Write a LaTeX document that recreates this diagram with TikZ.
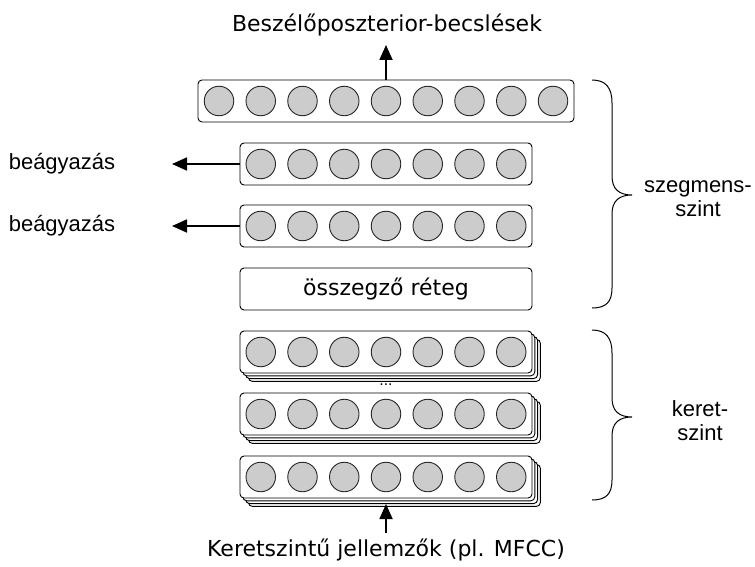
\documentclass[tikz,border=0pt]{standalone}
\usepackage{fontspec}
\setmainfont{DejaVu Sans}
\newfontfamily\arialf{Liberation Sans}
\usetikzlibrary{arrows.meta}
\definecolor{neurongray}{RGB}{204,204,204}
\begin{document}
\begin{tikzpicture}[x=1pt,y=-1pt,
  layerbox/.style={draw=black, line width=0.9pt, rounded corners=4pt, fill=white, minimum height=42pt, inner sep=0pt},
  neuron/.style={circle, draw=black!85, line width=0.9pt, fill=neurongray, minimum size=29.5pt, inner sep=0pt},
  bigtext/.style={font=\fontsize{22}{24}\selectfont, inner sep=0pt},
  sidetext/.style={font=\arialf\fontsize{22}{24}\selectfont, align=center, inner sep=0pt},
  arr/.style={-{Triangle[length=15pt,width=13pt]}, line width=1.8pt},
  bracepath/.style={line width=1pt}
]
\useasboundingbox (0,0) rectangle (755,567);

% output layer
\node[layerbox, minimum width=376pt] (out) at (386,101) {};
\foreach \i in {1,...,9} \node[neuron] (out-\i) at ({386+(\i-5)*41.75},101) {};
\node[bigtext, anchor=base] (title) at (387,32) {Beszélőposzterior-becslések};
\coordinate (outtip) at (386,45);
\draw[arr] (out.north) -- (outtip);

% embedding layers
\foreach \n/\y in {emb1/164, emb2/226} {
  \node[layerbox, minimum width=292pt] (\n) at (386,\y) {};
  \foreach \i in {1,...,7} \node[neuron] (\n-\i) at ({386+(\i-4)*41.75},\y) {};
  \coordinate (\n-tip) at (172,\y);
  \draw[arr] (\n.west) -- (\n-tip);
  \node[sidetext] (\n-lab) at (62,\y) {beágyazás};
}

% pooling
\node[layerbox, minimum width=292pt, font=\fontsize{22}{24}\selectfont] (pool) at (386,289) {összegző réteg};

% frame-level stacked layers
\foreach \n/\y in {fa/352, fb/414, fc/477} {
  \foreach \k in {3,2,1} \node[layerbox, minimum width=292pt] (\n-b\k) at ({386+2.8*\k},{\y+2.8*\k}) {};
  \node[layerbox, minimum width=292pt] (\n) at (386,\y) {};
  \foreach \i in {1,...,7} \node[neuron] (\n-\i) at ({386+(\i-4)*41.75},\y) {};
}
\node[font=\fontsize{14}{16}\selectfont, inner sep=0pt] (dots) at (386,385) {...};

% input
\node[bigtext, anchor=base] (input) at (386,556) {Keretszintű jellemzők (pl. MFCC)};
\coordinate (intail) at (386,533);
\draw[arr] (intail) -- (intail |- fc-b2.south);

% braces
\coordinate (sb-top) at (592,80);
\coordinate (sb-tip) at (632,195);
\coordinate (sb-bot) at (592,308);
\draw[bracepath] (sb-top) .. controls (606,80) and (612,88) .. (612,103) -- (612,176)
  .. controls (612,189) and (619,195) .. (sb-tip)
  .. controls (619,195) and (612,201) .. (612,214) -- (612,288)
  .. controls (612,302) and (606,308) .. (sb-bot);
\node[sidetext] (seglab) at (698,199) {szegmens-\\szint};

\coordinate (fb-top) at (592,330);
\coordinate (fb-tip) at (632,417);
\coordinate (fb-bot) at (592,500);
\draw[bracepath] (fb-top) .. controls (606,330) and (612,338) .. (612,353) -- (612,398)
  .. controls (612,411) and (619,417) .. (fb-tip)
  .. controls (619,417) and (612,423) .. (612,436) -- (612,480)
  .. controls (612,494) and (606,500) .. (fb-bot);
\node[sidetext] (framelab) at (700,421) {keret-\\szint};
\end{tikzpicture}
\end{document}
